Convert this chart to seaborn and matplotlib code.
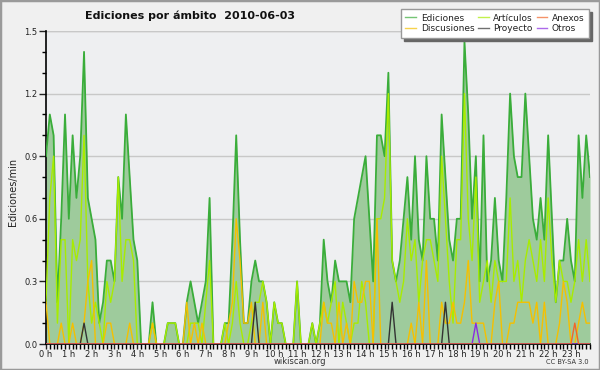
import numpy as np
import pandas as pd
import matplotlib
matplotlib.use("Agg")
import matplotlib.pyplot as plt
from matplotlib.lines import Line2D
from matplotlib.patches import Rectangle
from matplotlib.ticker import MultipleLocator, FixedLocator
import seaborn as sns

title = "Ediciones por ámbito  2010-06-03"
y_label = "Ediciones/min"
hour_labels = [f"{h} h" for h in range(24)]
slot_minutes = list(range(0, 24 * 60, 10))  # one point every 10 minutes

# edits per minute, averaged over each 10 minute slot
ediciones = [
    0.9, 1.1, 1.0, 0.2, 0.6, 1.1, 0.6, 1.0, 0.7, 0.9, 1.4, 0.7,
    0.6, 0.5, 0.1, 0.2, 0.4, 0.4, 0.3, 0.8, 0.6, 1.1, 0.8, 0.5,
    0.4, 0, 0, 0, 0.2, 0, 0, 0, 0.1, 0.1, 0.1, 0,
    0, 0.2, 0.3, 0.2, 0.1, 0.2, 0.3, 0.7, 0, 0, 0, 0.1,
    0.1, 0.5, 1.0, 0.5, 0.1, 0.1, 0.3, 0.4, 0.3, 0.3, 0.2, 0,
    0.2, 0.1, 0.1, 0, 0, 0, 0.3, 0, 0, 0, 0.1, 0,
    0.1, 0.5, 0.3, 0.2, 0.4, 0.3, 0.3, 0.3, 0.2, 0.6, 0.7, 0.8,
    0.9, 0.6, 0.3, 1.0, 1.0, 0.9, 1.3, 0.4, 0.3, 0.4, 0.6, 0.8,
    0.5, 0.9, 0.5, 0.4, 0.9, 0.6, 0.6, 0.4, 1.1, 0.8, 0.5, 0.4,
    0.6, 0.6, 1.45, 1.1, 0.6, 0.9, 0.3, 1.0, 0.3, 0.4, 0.7, 0.4,
    0.3, 0.7, 1.2, 0.9, 0.8, 0.8, 1.2, 0.9, 0.6, 0.5, 0.7, 0.5,
    1.0, 0.6, 0.2, 0.4, 0.4, 0.6, 0.4, 0.3, 1.0, 0.7, 1.0, 0.8,
]
articulos = [
    0.2, 0.7, 0.9, 0.1, 0.5, 0.5, 0, 0.5, 0.4, 0.5, 1.0, 0.3,
    0.1, 0.2, 0.1, 0, 0.3, 0.2, 0.3, 0.8, 0.3, 0.5, 0.5, 0.4,
    0, 0, 0, 0, 0.1, 0, 0, 0, 0.1, 0.1, 0.1, 0,
    0, 0, 0.1, 0.1, 0.1, 0, 0.2, 0.4, 0, 0, 0, 0.1,
    0, 0.1, 0.3, 0.1, 0, 0, 0.1, 0.2, 0.2, 0.3, 0.2, 0,
    0.2, 0.1, 0.1, 0, 0, 0, 0.3, 0, 0, 0, 0.1, 0,
    0.1, 0.2, 0.1, 0.2, 0.3, 0, 0.2, 0.1, 0, 0.1, 0.1, 0.3,
    0.2, 0, 0, 0.6, 0.6, 0.7, 1.2, 0.4, 0.3, 0.2, 0.3, 0.6,
    0.4, 0.5, 0.2, 0.4, 0.5, 0.5, 0.4, 0.3, 0.9, 0.6, 0.3, 0.1,
    0.5, 0.5, 1.2, 0.6, 0.4, 0.8, 0.2, 0.3, 0.4, 0.2, 0.4, 0.3,
    0.3, 0.3, 0.7, 0.3, 0.4, 0.2, 0.4, 0.5, 0.4, 0.3, 0.5, 0.3,
    0.7, 0.4, 0.2, 0.4, 0.3, 0.3, 0.2, 0.3, 0.5, 0.3, 0.5, 0.3,
]
discusiones = [
    0.2, 0, 0, 0, 0.1, 0, 0, 0.1, 0, 0, 0.1, 0.3,
    0.4, 0, 0, 0, 0.1, 0.1, 0, 0, 0, 0, 0.1, 0,
    0, 0, 0, 0, 0.1, 0, 0, 0, 0, 0, 0, 0,
    0, 0.2, 0, 0.1, 0, 0.1, 0, 0, 0, 0, 0, 0,
    0.1, 0.2, 0.6, 0.4, 0.1, 0.1, 0.2, 0, 0, 0.2, 0, 0,
    0, 0, 0, 0, 0, 0, 0, 0, 0, 0, 0, 0,
    0, 0.2, 0.1, 0.1, 0, 0.2, 0, 0.1, 0, 0.3, 0.2, 0.2,
    0.3, 0.3, 0, 0.6, 0, 0, 0, 0, 0, 0, 0, 0,
    0.1, 0, 0.2, 0, 0.4, 0, 0, 0, 0.2, 0.1, 0.1, 0.2,
    0.1, 0.1, 0.2, 0.4, 0.1, 0.1, 0.1, 0.1, 0, 0, 0.2, 0.3,
    0, 0, 0.1, 0.1, 0.2, 0.2, 0.2, 0.2, 0.1, 0.2, 0, 0.2,
    0, 0, 0, 0.1, 0.3, 0.2, 0, 0, 0.1, 0.2, 0.1, 0.1,
]
# sparse namespaces: slot index -> value
proyecto_spikes = {10: 0.1, 55: 0.2, 91: 0.2, 105: 0.2}
otros_spikes = {113: 0.1}
anexos_spikes = {139: 0.1}


def from_spikes(spikes):
    values = [0.0] * len(slot_minutes)
    for slot, value in spikes.items():
        values[slot] = value
    return values


hours = np.array(slot_minutes) / 60
df = pd.DataFrame({
    "hora": hours,
    "Ediciones": ediciones,
    "Artículos": articulos,
    "Anexos": from_spikes(anexos_spikes),
    "Discusiones": discusiones,
    "Proyecto": from_spikes(proyecto_spikes),
    "Otros": from_spikes(otros_spikes),
})

colors = {
    "Ediciones": "#3aad3a",
    "Artículos": "#a8ec00",
    "Anexos": "#f2662a",
    "Discusiones": "#f5c000",
    "Proyecto": "#333333",
    "Otros": "#8a2be2",
}
fill_color = "#9ecb9c"

fig = plt.figure(figsize=(6, 3.7), dpi=100, facecolor="#f0f0f0")
ax = fig.add_axes([46 / 600, 26 / 370, 544 / 600, 313 / 370])
ax.set_facecolor("#eeeff1")

ax.fill_between(df["hora"], df["Ediciones"], color=fill_color, lw=0, zorder=1)
sns.lineplot(data=df, x="hora", y="Ediciones", color=colors["Ediciones"], lw=1.3, ax=ax, zorder=3)
for name in ["Artículos", "Discusiones", "Proyecto", "Otros", "Anexos"]:
    sns.lineplot(data=df, x="hora", y=name, color=colors[name], lw=1.0, ax=ax, zorder=4)

ax.set_xlim(0, hours[-1])
ax.set_ylim(0, 1.5)
ax.set_xlabel("")
ax.set_ylabel("")

ax.xaxis.set_major_locator(FixedLocator(range(24)))
ax.set_xticklabels(hour_labels)
ax.xaxis.set_minor_locator(MultipleLocator(1 / 6))
ax.yaxis.set_major_locator(MultipleLocator(0.3))
ax.yaxis.set_minor_locator(MultipleLocator(0.1))
ax.yaxis.set_major_formatter(matplotlib.ticker.FormatStrFormatter("%.1f"))
ax.tick_params(axis="both", which="major", labelsize=6, colors="#222222", direction="out")
ax.tick_params(axis="x", which="both", length=3.5, width=1, pad=0.5)
ax.tick_params(axis="y", which="major", length=5, width=1, pad=1)
ax.tick_params(axis="y", which="minor", length=3, width=1)
for label in ax.get_xticklabels():
    label.set_horizontalalignment("center")

ax.grid(axis="y", which="major", color="#c8c8c8", lw=1)
ax.set_axisbelow(True)
for side in ["top", "right"]:
    ax.spines[side].set_visible(False)
for side in ["left", "bottom"]:
    ax.spines[side].set_color("black")
    ax.spines[side].set_linewidth(1.2)
ax.axhline(1.5, color="#c8c8c8", lw=1, zorder=0)

order = ["Ediciones", "Discusiones", "Artículos", "Proyecto", "Anexos", "Otros"]
handles = [Line2D([0], [0], color=colors[n], lw=1, alpha=0.7, label=n) for n in order]
leg = fig.legend(
    handles=handles, ncol=3, loc="upper right", bbox_to_anchor=(589 / 600, 1 - 9 / 370),
    fontsize=6.5, frameon=True, fancybox=False, shadow={"color": "#666666", "alpha": 1},
    handlelength=1.2, handletextpad=0.5, columnspacing=0.4, labelspacing=0.2,
    borderpad=0.5, borderaxespad=0,
)
leg.get_frame().set_facecolor("white")
leg.get_frame().set_edgecolor("#999999")
leg.get_frame().set_alpha(1)
for text in leg.get_texts():
    text.set_color("#222222")

fig.text(85 / 600, 1 - 16 / 370, title, fontsize=8, fontweight="bold", ha="left", va="center", color="#111111")
fig.text(13 / 600, 1 - 192 / 370, y_label, fontsize=7, rotation=90, ha="center", va="center", color="#222222")
fig.text(300 / 600, 1 - 362 / 370, "wikiscan.org", fontsize=6, ha="center", va="center", color="#333333")
fig.text(589 / 600, 1 - 362 / 370, "CC BY-SA 3.0", fontsize=4.8, ha="right", va="center", color="#333333")

fig.patches.append(Rectangle((0, 0), 1, 1, transform=fig.transFigure, fill=False,
                             edgecolor="#9a9a9a", lw=2.5, zorder=10))

fig.savefig("out.png", dpi=100, facecolor=fig.get_facecolor())
